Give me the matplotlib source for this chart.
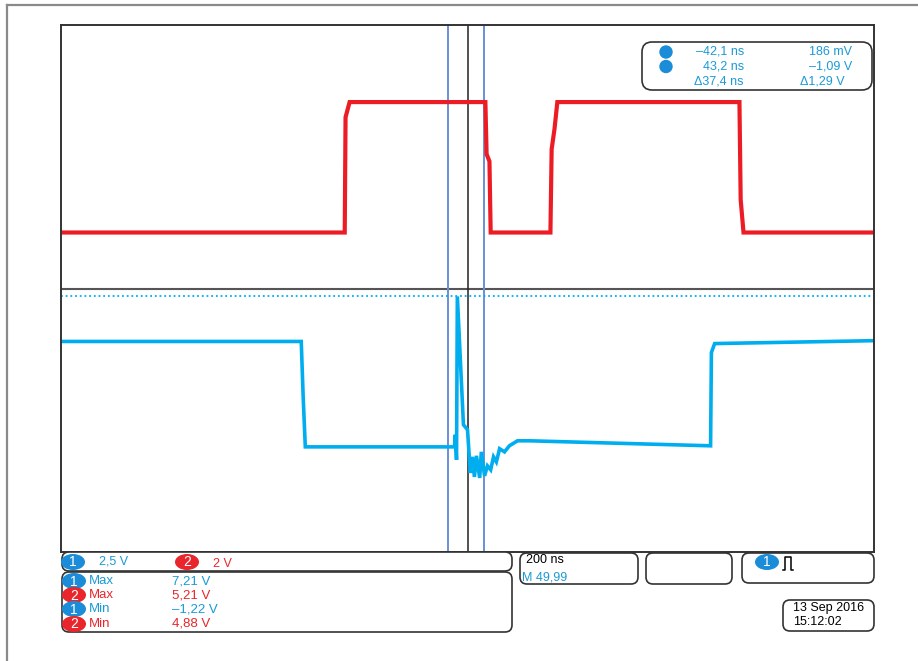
from matplotlib import patches, pyplot as plt

plt.rcParams['font.family'] = ['Liberation Sans', 'DejaVu Sans']

# ---- data (time in ns, levels in V) ----
ch1_t = [-1000, -409, -404, -399, -32, -30, -27, -25, -10, 0, 7, 12, 17, 22, 30,
         34, 42, 49, 57, 64, 71, 79, 91, 103, 123, 153, 598, 600, 608, 1000]
ch1_v = [5.49, 5.49, 3.28, 1.49, 1.49, 1.95, 1.00, 7.20, 2.33, 2.14, 0.50, 1.11,
         0.35, 1.15, 0.31, 1.30, 0.39, 0.77, 0.62, 1.11, 0.92, 1.42, 1.30, 1.53,
         1.72, 1.72, 1.53, 5.07, 5.41, 5.52]

ch2_t = [-1000, -302, -300, -290, 44, 47, 54, 57, 204, 207, 214, 221, 669, 672, 679, 1000]
ch2_v = [0.0, 0.0, 3.50, 3.96, 3.96, 2.38, 2.16, 0.0, 0.0, 2.53, 3.14, 3.96, 3.96,
         1.00, 0.0, 0.0]

ch1_scale, ch2_scale = 2.5, 2.0      # V/div
ch1_pos, ch2_pos = -3.0, 0.85        # div offset of 0 V
trig_level = 7.2                     # V on ch1
cursor_t = [-49, 41]

cursor_rows = [['\u201342,1 ns', '186 mV'], ['43,2 ns', '\u20131,09 V'],
               ['\u039437,4 ns', '\u03941,29 V']]
meas_names = ['Max', 'Max', 'Min', 'Min']
meas_chan = ['1', '2', '1', '2']
meas_vals = ['7,21 V', '5,21 V', '\u20131,22 V', '4,88 V']

blue = '#00aeef'
red = '#ed1c24'
txt_blue = '#1a9ad6'
txt_red = '#e8262c'
badge_blue = '#1a8cd8'
edge = '#333333'

W, H = 918, 661
fig = plt.figure(figsize=(W / 100, H / 100), dpi=100)

# scope screen
ax = fig.add_axes([61 / W, 1 - 552 / H, (874 - 61) / W, (552 - 25) / H])
ax.set_xlim(-1000, 1000)
ax.set_ylim(-4, 4)
ax.set_xticks([])
ax.set_yticks([])
for s in ax.spines.values():
    s.set_color(edge)
    s.set_linewidth(1.4)

ax.axhline(0, color='#555555', lw=1.5)
ax.axvline(0, color='#222222', lw=1.1)
for t in cursor_t:
    ax.axvline(t, color='#6a8fd6', lw=1.4)
ax.axhline(trig_level / ch1_scale + ch1_pos, color=blue, lw=1.3, ls=(0, (1, 1.6)))

ax.plot(ch2_t, [v / ch2_scale + ch2_pos for v in ch2_v], color=red, lw=3.0,
        solid_joinstyle='miter')
ax.plot(ch1_t, [v / ch1_scale + ch1_pos for v in ch1_v], color=blue, lw=2.6,
        solid_joinstyle='miter')

# overlay in pixel units for the readout boxes
ov = fig.add_axes([0, 0, 1, 1])
ov.set_xlim(0, W)
ov.set_ylim(H, 0)
ov.axis('off')
ov.patch.set_alpha(0)
ov.set_zorder(3)

ov.plot([7, W], [5, 5], color='#8a8a8a', lw=1.6)
ov.plot([7, 7], [5, H], color='#8a8a8a', lw=1.6)


def box(x0, y0, x1, y1, r=7):
    ov.add_patch(patches.FancyBboxPatch(
        (x0, y0), x1 - x0, y1 - y0,
        boxstyle='round,pad=0,rounding_size=%d' % r,
        facecolor='white', edgecolor=edge, lw=1.2))


def badge(x, y, label, color):
    ov.add_patch(patches.Ellipse((x, y), 24, 16, facecolor=color, edgecolor='none'))
    ov.text(x, y + 0.5, label, color='white', fontsize=10, ha='center', va='center')


# cursor readout
box(642, 42, 872, 90, r=10)
for i, (a, b) in enumerate(cursor_rows):
    y = 52 + 14.5 * i
    if i < 2:
        ov.add_patch(patches.Circle((666, y), 6, color=badge_blue))
    ov.text(744, y, a, color=txt_blue, fontsize=9, ha='right', va='center')
    ov.text(852 if i < 2 else 845, y, b, color=txt_blue, fontsize=9, ha='right', va='center')

# channel scales
box(62, 552, 512, 571)
badge(73, 562, '1', badge_blue)
ov.text(99, 562, '2,5 V', color=txt_blue, fontsize=9, va='center')
badge(187, 562, '2', txt_red)
ov.text(213, 564, '2 V', color=txt_red, fontsize=9, va='center')

# measurements
box(62, 572, 512, 632)
row_y = [581, 595, 609, 624]
for y, ch, name, val in zip(row_y, meas_chan, meas_names, meas_vals):
    c = txt_blue if ch == '1' else txt_red
    badge(74, y, ch, badge_blue if ch == '1' else txt_red)
    ov.text(89, y, name, color=c, fontsize=9.5, va='center')
    ov.text(172, y, val, color=c, fontsize=9.5, va='center')

# timebase
box(520, 553, 638, 584)
ov.text(526, 560, '200 ns', color='black', fontsize=9, va='center')
ov.text(522, 578, 'M 49,99', color=txt_blue, fontsize=9, va='center')

box(646, 553, 732, 584)

# trigger
box(742, 553, 874, 583)
badge(767, 562, '1', badge_blue)
ov.plot([783, 785, 785, 791, 791, 793], [570, 570, 557, 557, 570, 570],
        color='black', lw=1.1)

# date
box(783, 600, 874, 631)
ov.text(793, 608, '13 Sep 2016', color='black', fontsize=9, va='center')
ov.text(793, 622, '15:12:02', color='black', fontsize=9, va='center')

fig.savefig('out.png', dpi=100)
